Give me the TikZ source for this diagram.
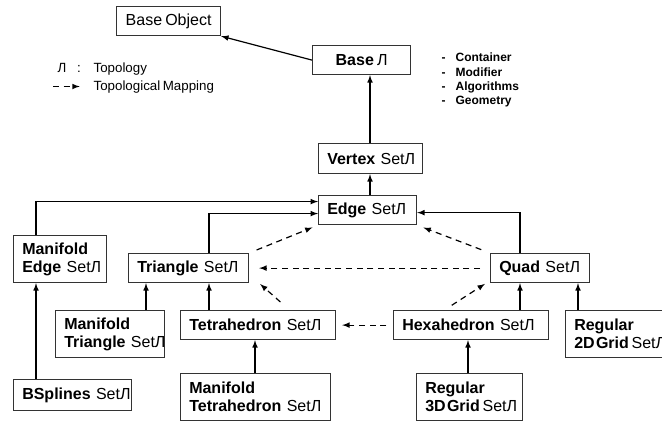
\documentclass[tikz,border=0pt]{standalone}
\usepackage{fontspec}
\setmainfont{Liberation Sans}[WordSpace=0.7]
\usetikzlibrary{arrows}
\usetikzlibrary{calc}

\begin{document}
\begin{tikzpicture}[x=0.75pt,y=-0.75pt,>=latex,line width=0.9pt,
    classbox/.style={draw=black!80,anchor=north west,inner ysep=2pt,font=\fontsize{12}{13.5}\selectfont},
    cls/.style={classbox,align=left,inner xsep=6.5pt},
    mapping/.style={->,dash pattern=on 4.5pt off 3.5pt},
    legendtext/.style={font=\fontsize{10}{12}\selectfont,inner sep=0pt,anchor=base west},
    listitem/.style={font=\fontsize{9}{11}\selectfont\bfseries,inner sep=0pt,anchor=base west}]
    \useasboundingbox (0,0) rectangle (662,422);

    % legend
    \node[legendtext] (topsym) at (57,72) {Л\hspace{8pt}:};
    \node[legendtext] (toplabel) at (93,72) {Topology};
    \node[legendtext] (maplabel) at (93,90.5) {Topological Mapping};
    \coordinate (mapstart) at (53,86.5);
    \draw[mapping] (mapstart) -- ([xshift=-10pt]mapstart -| maplabel.west);

    % what every topology offers
    \foreach \t [count=\i] in {Container,Modifier,Algorithms,Geometry}
        \node[listitem] (offer\i) at (441,47.3+14.4*\i) {\makebox[10.5pt][l]{-}\t};

    % the classes
    \node[classbox,minimum width=78pt,minimum height=21.75pt] (baseobj) at (116,6) {Base Object};
    \node[classbox,minimum width=73.5pt,minimum height=21.75pt] (base) at (312,45) {\textbf{Base}~Л};
    \node[cls,text width=65pt,minimum height=22.5pt] (vertex) at (318,143) {\textbf{Vertex}~SetЛ};
    \node[cls,text width=60.5pt,minimum height=21.75pt] (edge) at (318,195) {\textbf{Edge}~SetЛ};
    \node[cls,text width=56.75pt,minimum height=35.25pt] (medge) at (13,235) {\textbf{Manifold}\\\textbf{Edge}~SetЛ};
    \node[cls,text width=77pt,minimum height=21.75pt] (tri) at (128,253) {\textbf{Triangle}~SetЛ};
    \node[cls,text width=61.25pt,minimum height=21.75pt] (quad) at (490,253) {\textbf{Quad}~SetЛ};
    \node[cls,text width=68.75pt,minimum height=35.25pt] (mtri) at (55,310) {\textbf{Manifold}\\\textbf{Triangle}~SetЛ};
    \node[cls,text width=103.25pt,minimum height=21.75pt] (tetra) at (180,310) {\textbf{Tetrahedron}~SetЛ};
    \node[cls,text width=103.25pt,minimum height=21.75pt] (hexa) at (393,310) {\textbf{Hexahedron}~SetЛ};
    \node[cls,text width=70pt,minimum height=35.25pt] (reg2d) at (565,310) {\textbf{Regular}\\\textbf{2D\kern1pt Grid}\kern2pt SetЛ};
    \node[cls,text width=75.5pt,minimum height=23.25pt] (bspl) at (13,379) {\textbf{BSplines}~SetЛ};
    \node[cls,text width=99.5pt,minimum height=35.25pt] (mtet) at (180,373) {\textbf{Manifold}\\\textbf{Tetrahedron}~SetЛ};
    \node[cls,text width=66.5pt,minimum height=35.25pt] (reg3d) at (416,373) {\textbf{Regular}\\\textbf{3D\kern1pt Grid}\kern2pt SetЛ};

    % inheritance
    \draw[->] (base.west) -- (baseobj.south east);
    \foreach \x/\from/\to in {370/vertex/base,370/edge/vertex,36/bspl/medge,146/mtri/tri,
        209/tetra/tri,255/mtet/tetra,468/reg3d/hexa,520/hexa/quad,578/reg2d/quad}
        \draw[->] (\from.north -| \x,0) -- (\to.south -| \x,0);
    \draw[->] (medge.north -| 36,0) |- ([yshift=6.4pt]edge.west);
    \draw[->] (tri.north -| 209,0) |- ([yshift=-2.6pt]edge.west);
    \draw[->] (quad.north -| 520,0) |- ([yshift=-1.9pt]edge.east);

    % topological mappings
    \draw[mapping,shorten <=6pt,shorten >=4.5pt] (tri.north east) -- (edge.south west);
    \draw[mapping,shorten <=7pt,shorten >=5pt] (quad.north west) -- (edge.south east);
    \draw[mapping,shorten <=7.5pt,shorten >=7.5pt] (quad.west) -- (tri.east);
    \draw[mapping,shorten <=9pt,shorten >=1pt] ([xshift=23.5pt]tetra.north) -- ([xshift=7.5pt]tri.south east);
    \draw[mapping,shorten <=6.5pt,shorten >=1pt] ([xshift=-20pt]hexa.north) -- ([xshift=-3pt]quad.south west);
    \draw[mapping,shorten <=5pt,shorten >=4.5pt] (hexa.west) -- (tetra.east);
\end{tikzpicture}
\end{document}
